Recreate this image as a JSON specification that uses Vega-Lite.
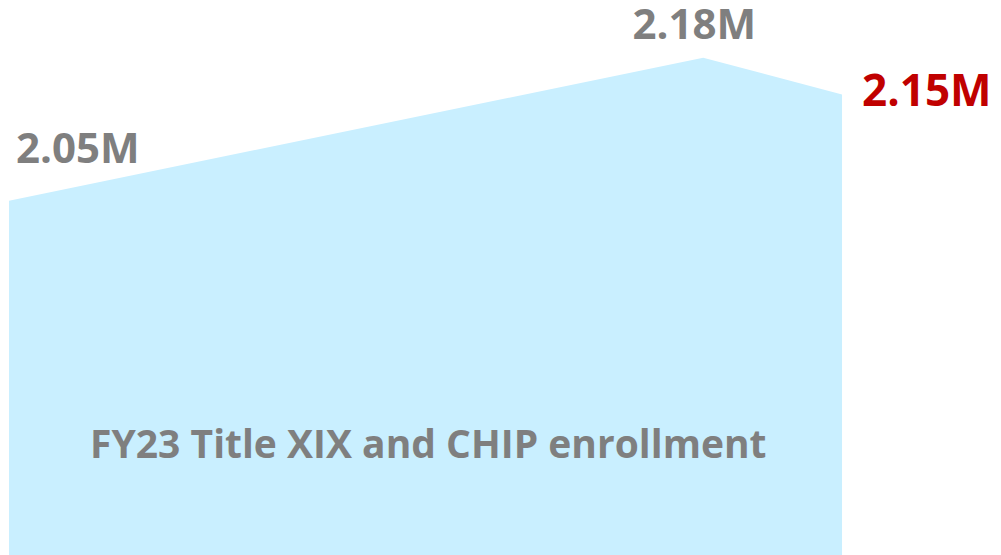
{
  "$schema": "https://vega.github.io/schema/vega-lite/v6.json",
  "width": 1001,
  "height": 555,
  "autosize": {"type": "fit", "contains": "padding"},
  "padding": 0,
  "background": "#ffffff",
  "config": {"view": {"stroke": null}},
  "data": {
    "values": [
      {"month": 0, "enrollment": 2054000, "label": "2.05M", "point": "start"},
      {"month": 10, "enrollment": 2178000, "label": "2.18M", "point": "peak"},
      {"month": 12, "enrollment": 2146000, "label": "2.15M", "point": "end"}
    ]
  },
  "layer": [
    {
      "mark": {"type": "area", "color": "#C9EFFF", "clip": true},
      "encoding": {
        "x": {"field": "month", "type": "quantitative", "scale": {"domain": [-0.13, 14.29], "nice": false, "zero": false}, "axis": null},
        "y": {"field": "enrollment", "type": "quantitative", "scale": {"domain": [1747000, 2228000], "nice": false, "zero": false}, "axis": null}
      }
    },
    {
      "transform": [{"filter": "datum.point === 'start'"}],
      "mark": {"type": "text", "font": "Open Sans", "fontWeight": "bold", "fontSize": 42, "align": "left", "baseline": "alphabetic", "dx": 7, "dy": -38, "color": "#7F7F7F"},
      "encoding": {
        "x": {"field": "month", "type": "quantitative"},
        "y": {"field": "enrollment", "type": "quantitative"},
        "text": {"field": "label"}
      }
    },
    {
      "transform": [{"filter": "datum.point === 'peak'"}],
      "mark": {"type": "text", "font": "Open Sans", "fontWeight": "bold", "fontSize": 42, "align": "center", "baseline": "alphabetic", "dx": -9, "dy": -19, "color": "#7F7F7F"},
      "encoding": {
        "x": {"field": "month", "type": "quantitative"},
        "y": {"field": "enrollment", "type": "quantitative"},
        "text": {"field": "label"}
      }
    },
    {
      "transform": [{"filter": "datum.point === 'end'"}],
      "mark": {"type": "text", "font": "Open Sans", "fontWeight": "bold", "fontSize": 44, "align": "left", "baseline": "alphabetic", "dx": 20, "dy": 11, "color": "#C00000"},
      "encoding": {
        "x": {"field": "month", "type": "quantitative"},
        "y": {"field": "enrollment", "type": "quantitative"},
        "text": {"field": "label"}
      }
    },
    {
      "transform": [{"filter": "datum.point === 'start'"}],
      "mark": {"type": "text", "text": "FY23 Title XIX and CHIP enrollment", "font": "Open Sans", "fontWeight": "bold", "fontSize": 39, "align": "center", "baseline": "alphabetic", "color": "#7F7F7F"},
      "encoding": {
        "x": {"datum": 6.04, "type": "quantitative"},
        "y": {"datum": 1831000, "type": "quantitative"}
      }
    }
  ]
}
